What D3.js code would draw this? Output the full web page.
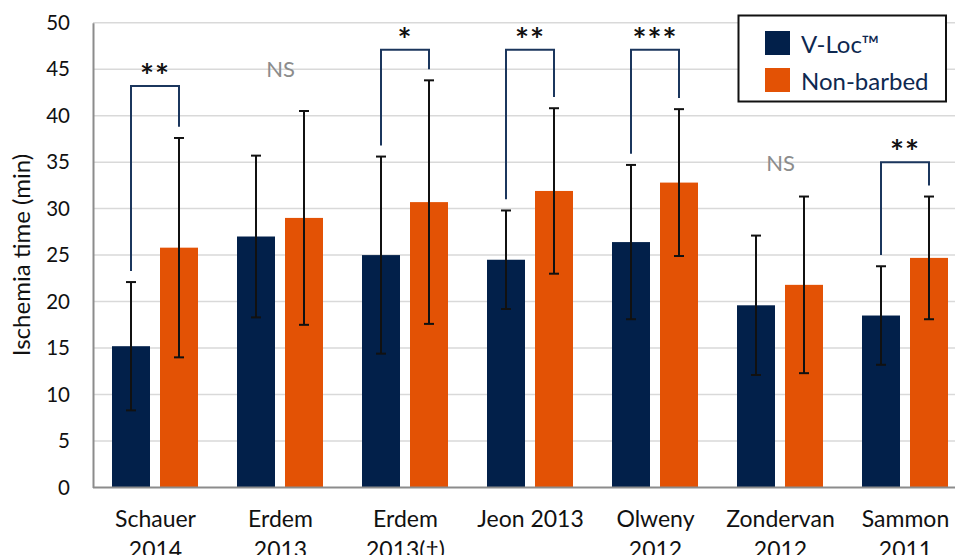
<!DOCTYPE html>
<html>
<head>
<meta charset="utf-8">
<script src="https://cdn.jsdelivr.net/npm/d3@7/dist/d3.min.js"></script>
<style>
  html, body { margin: 0; padding: 0; background: #fff; overflow: hidden; }
  svg { display: block; font-family: Lato, "Open Sans", sans-serif; }
</style>
</head>
<body>
<svg id="chart" width="955" height="555"></svg>
<script>
// Ischemia time (min), mean ± SD, per study
const categories = ["Schauer 2014", "Erdem 2013", "Erdem 2013(†)", "Jeon 2013", "Olweny 2012", "Zondervan 2012", "Sammon 2011"];
const seriesNames = ["V-Loc™", "Non-barbed"];
const vlocMean = [15.2, 27.0, 25.0, 24.5, 26.4, 19.6, 18.5];
const vlocSD   = [6.9, 8.7, 10.6, 5.3, 8.3, 7.5, 5.3];
const nonMean  = [25.8, 29.0, 30.7, 31.9, 32.8, 21.8, 24.7];
const nonSD    = [11.8, 11.5, 13.1, 8.9, 7.9, 9.5, 6.6];

// significance annotations
const sigLabels  = ["**", "NS", "*", "**", "***", "NS", "**"];
const bracketTop = [43.2, null, 47.1, 47.1, 47.1, null, 35.0];
const nsLevel    = [null, 45.0, null, null, null, 34.9, null];

const yTicks = [0, 5, 10, 15, 20, 25, 30, 35, 40, 45, 50];
const yTitle = "Ischemia time (min)";

const colors = { "V-Loc™": "#02204a", "Non-barbed": "#e35205" };

const svg = d3.select("#chart");
const plotLeft = 93, plotRight = 968, plotTop = 22.7, plotBottom = 487.5;

const x0 = d3.scaleBand().domain(categories).range([plotLeft, plotRight]).paddingInner(0).paddingOuter(0);
const x1 = d3.scaleBand().domain(seriesNames).range([19, 105]).paddingInner(10 / 48).paddingOuter(0);
const y = d3.scaleLinear().domain([0, 50]).range([plotBottom, plotTop]);

const data = categories.map((c, i) => ({
  cat: c, i,
  vals: [
    { s: seriesNames[0], mean: vlocMean[i], sd: vlocSD[i] },
    { s: seriesNames[1], mean: nonMean[i], sd: nonSD[i] }
  ]
}));

// gridlines
svg.append("g")
  .selectAll("line").data(yTicks.filter(d => d > 0)).join("line")
  .attr("x1", plotLeft).attr("x2", 955)
  .attr("y1", d => y(d)).attr("y2", d => y(d))
  .attr("stroke", "#d9d9d9").attr("stroke-width", 1.5);

// y axis
const yAxis = svg.append("g").attr("transform", `translate(${plotLeft},0)`)
  .call(d3.axisLeft(y).tickValues(yTicks).tickSize(0).tickPadding(23));
yAxis.select(".domain").attr("stroke", "#8c8c8c").attr("stroke-width", 2);
yAxis.selectAll("text").attr("font-size", 20.5).attr("fill", "#111").attr("font-family", "Lato, sans-serif");

svg.append("text")
  .attr("transform", `translate(30,255) rotate(-90)`)
  .attr("text-anchor", "middle")
  .attr("font-size", 24).attr("fill", "#111")
  .text(yTitle);

// bars
const groups = svg.append("g").selectAll("g").data(data).join("g")
  .attr("transform", d => `translate(${x0(d.cat)},0)`);

groups.selectAll("rect").data(d => d.vals).join("rect")
  .attr("x", d => x1(d.s))
  .attr("width", x1.bandwidth())
  .attr("y", d => y(d.mean))
  .attr("height", d => y(0) - y(d.mean))
  .attr("fill", d => colors[d.s]);

// error bars
const eb = groups.selectAll("g.err").data(d => d.vals).join("g").attr("class", "err")
  .attr("stroke", "#111").attr("stroke-width", 2);
const cx = d => x1(d.s) + x1.bandwidth() / 2;
eb.append("line")
  .attr("x1", cx).attr("x2", cx)
  .attr("y1", d => y(d.mean + d.sd)).attr("y2", d => y(d.mean - d.sd));
eb.append("line")
  .attr("x1", d => cx(d) - 5).attr("x2", d => cx(d) + 5)
  .attr("y1", d => y(d.mean + d.sd)).attr("y2", d => y(d.mean + d.sd));
eb.append("line")
  .attr("x1", d => cx(d) - 5).attr("x2", d => cx(d) + 5)
  .attr("y1", d => y(d.mean - d.sd)).attr("y2", d => y(d.mean - d.sd));

// x axis baseline
svg.append("line").attr("x1", plotLeft).attr("x2", 955).attr("y1", plotBottom).attr("y2", plotBottom)
  .attr("stroke", "#8c8c8c").attr("stroke-width", 2);

// category labels (wrapped onto two lines where too wide)
const catLabels = svg.append("g").selectAll("text").data(categories).join("text")
  .attr("x", d => x0(d) + x0.bandwidth() / 2)
  .attr("y", 527)
  .attr("text-anchor", "middle")
  .attr("font-size", 23).attr("fill", "#111");
catLabels.each(function(d) {
  const t = d3.select(this);
  const words = d.split(" ");
  let lines = [], cur = [];
  words.forEach(w => {
    const test = cur.concat([w]).join(" ");
    t.text(test);
    if (this.getComputedTextLength() > 118 && cur.length) { lines.push(cur.join(" ")); cur = [w]; }
    else cur.push(w);
  });
  lines.push(cur.join(" "));
  t.text(null);
  lines.forEach((ln, k) => {
    t.append("tspan").attr("x", x0(d) + x0.bandwidth() / 2).attr("dy", k ? 31 : 0).text(ln);
  });
});

// significance brackets
const ann = svg.append("g").selectAll("g").data(data).join("g")
  .attr("transform", d => `translate(${x0(d.cat)},0)`);
ann.filter(d => bracketTop[d.i] != null).each(function(d) {
  const g = d3.select(this);
  const xa = x1(seriesNames[0]) + x1.bandwidth() / 2;
  const xb = x1(seriesNames[1]) + x1.bandwidth() / 2;
  const ya = y(vlocMean[d.i] + vlocSD[d.i] + 1.2);
  const yb = y(nonMean[d.i] + nonSD[d.i] + 1.2);
  const yt = y(bracketTop[d.i]);
  g.append("path")
    .attr("d", `M${xa},${ya}V${yt}H${xb}V${yb}`)
    .attr("fill", "none").attr("stroke", "#1b365d").attr("stroke-width", 2);
  g.append("text")
    .attr("x", (xa + xb) / 2).attr("y", yt + 2)
    .attr("text-anchor", "middle")
    .attr("font-size", 33).attr("font-weight", "bold").attr("fill", "#111")
    .attr("letter-spacing", 1)
    .text(sigLabels[d.i]);
});
ann.filter(d => nsLevel[d.i] != null).append("text")
  .attr("x", x0.bandwidth() / 2)
  .attr("y", d => y(nsLevel[d.i]))
  .attr("dy", "0.35em")
  .attr("text-anchor", "middle")
  .attr("font-size", 22).attr("fill", "#8c8c8c")
  .text(d => sigLabels[d.i]);

// legend
const lg = svg.append("g");
lg.append("rect").attr("x", 738.5).attr("y", 15.5).attr("width", 207.5).attr("height", 86)
  .attr("fill", "#fff").attr("stroke", "#111").attr("stroke-width", 2);
const li = lg.selectAll("g.item").data(seriesNames).join("g").attr("class", "item")
  .attr("transform", (d, i) => `translate(765,${31 + i * 37})`);
li.append("rect").attr("width", 25).attr("height", 24).attr("fill", d => colors[d]);
li.append("text").attr("x", 36).attr("y", 21.5)
  .attr("font-size", 24).attr("fill", "#0e2850")
  .text(d => d);
</script>
</body>
</html>
